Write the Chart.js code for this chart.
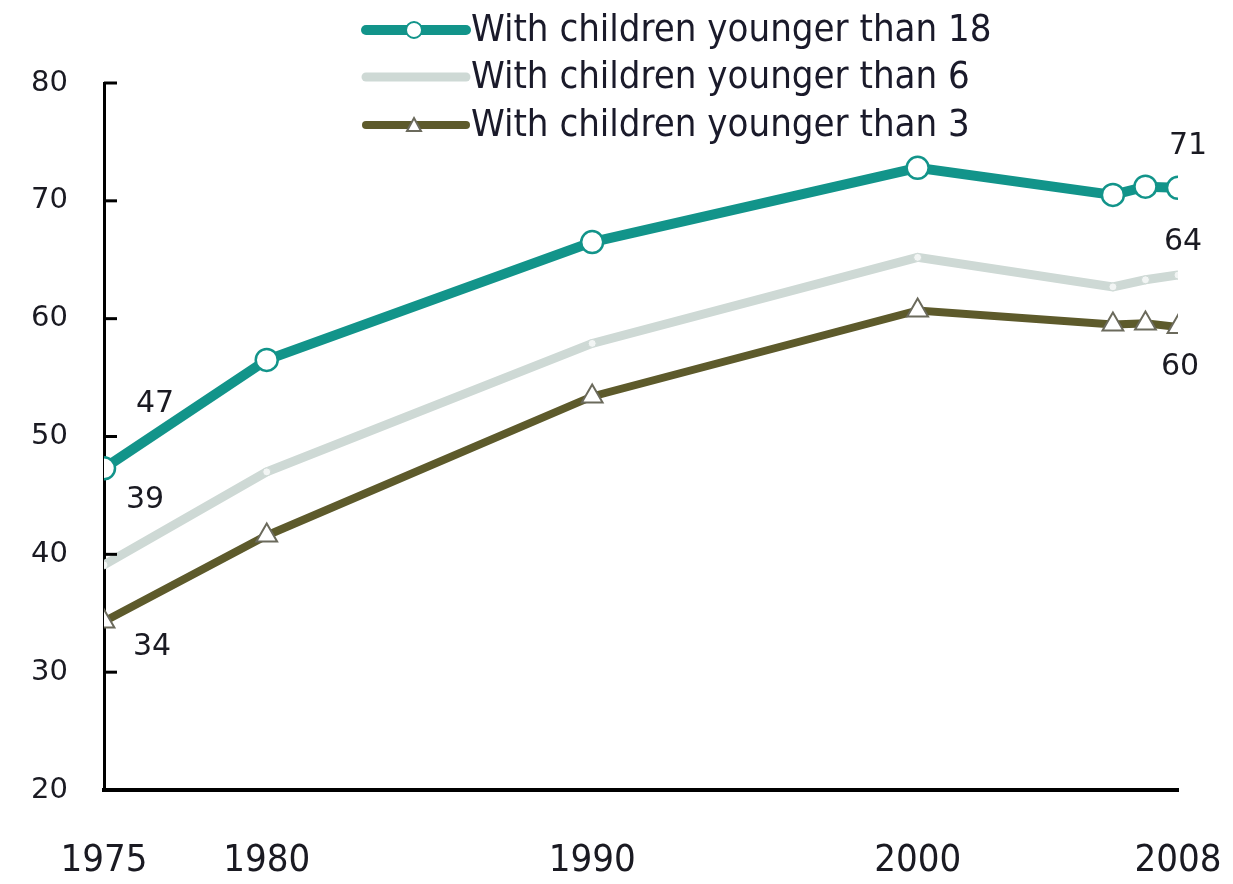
<!DOCTYPE html>
<html>
<head>
<meta charset="utf-8">
<script src="https://cdn.jsdelivr.net/npm/chart.js@4"></script>
<style>
  html, body { margin: 0; padding: 0; background: #fff; }
  #wrap { width: 1233px; height: 884px; position: relative; }
</style>
</head>
<body>
<div id="wrap"><canvas id="lineChart"></canvas></div>
<script>
// values
const years = [1975, 1980, 1990, 2000, 2006, 2007, 2008];
const under18 = [47.3, 56.5, 66.5, 72.8, 70.5, 71.2, 71.1];
const under6 = [39.1, 47.0, 57.9, 65.2, 62.7, 63.3, 63.7];
const under3 = [34.3, 41.6, 53.4, 60.7, 59.5, 59.6, 59.3];
const seriesNames = ['With children younger than 18', 'With children younger than 6', 'With children younger than 3'];
const xTickYears = [1975, 1980, 1990, 2000, 2008];
const yTickValues = [20, 30, 40, 50, 60, 70, 80];
const firstLabels = ['47', '39', '34'];
const lastLabels = ['71', '64', '60'];

const teal = '#12948a';
const light = '#ced9d5';
const olive = '#5d5a2b';

function toPoints(vals) {
  return years.map((y, i) => ({ x: y, y: vals[i] }));
}

// small ticks on the inside of the y axis
const innerTicks = {
  id: 'innerTicks',
  afterDraw(chart) {
    const ctx = chart.ctx;
    const y = chart.scales.y;
    const left = chart.chartArea.left;
    ctx.save();
    ctx.strokeStyle = '#000';
    ctx.lineWidth = 3;
    yTickValues.forEach(v => {
      if (v === 20) return;
      const py = y.getPixelForValue(v);
      ctx.beginPath();
      ctx.moveTo(left, py);
      ctx.lineTo(left + 13, py);
      ctx.stroke();
    });
    ctx.restore();
  }
};

// start and end value labels
const endLabels = {
  id: 'endLabels',
  afterDatasetsDraw(chart) {
    const ctx = chart.ctx;
    const firstOff = [[51, -64], [41, -65], [48, 26]];
    const lastOff = [[10, -42], [5, -33], [2, 40]];
    ctx.save();
    ctx.font = '30px "DejaVu Sans"';
    ctx.fillStyle = '#1a1a22';
    ctx.textAlign = 'center';
    ctx.textBaseline = 'middle';
    chart.data.datasets.forEach((ds, i) => {
      const pts = chart.getDatasetMeta(i).data;
      const a = pts[0], b = pts[pts.length - 1];
      ctx.fillText(firstLabels[i], a.x + firstOff[i][0], a.y + firstOff[i][1]);
      ctx.fillText(lastLabels[i], b.x + lastOff[i][0], b.y + lastOff[i][1]);
    });
    ctx.restore();
  }
};

// legend drawn at the top, line + marker + text
const topLegend = {
  id: 'topLegend',
  afterDraw(chart) {
    const ctx = chart.ctx;
    const rows = [30, 77, 125];
    ctx.save();
    chart.data.datasets.forEach((ds, i) => {
      const yy = rows[i];
      ctx.strokeStyle = ds.borderColor;
      ctx.lineWidth = ds.borderWidth;
      ctx.lineCap = 'round';
      ctx.beginPath();
      ctx.moveTo(366, yy);
      ctx.lineTo(466, yy);
      ctx.stroke();
      ctx.lineCap = 'butt';
      if (ds.pointStyle === 'circle' && i === 0) {
        ctx.beginPath();
        ctx.arc(414, yy, 8, 0, Math.PI * 2);
        ctx.fillStyle = '#fff';
        ctx.fill();
        ctx.lineWidth = 2;
        ctx.strokeStyle = ds.pointBorderColor;
        ctx.stroke();
      } else if (ds.pointStyle === 'triangle') {
        ctx.beginPath();
        ctx.moveTo(414, yy - 7);
        ctx.lineTo(421, yy + 6);
        ctx.lineTo(407, yy + 6);
        ctx.closePath();
        ctx.fillStyle = '#fff';
        ctx.fill();
        ctx.lineWidth = 2;
        ctx.strokeStyle = ds.pointBorderColor;
        ctx.stroke();
      }
      ctx.font = '38px "DejaVu Sans Condensed", "DejaVu Sans"';
      ctx.fillStyle = '#1a1a2a';
      ctx.textAlign = 'left';
      ctx.textBaseline = 'middle';
      ctx.fillText(seriesNames[i], 471, yy + 1);
    });
    ctx.restore();
  }
};

const ctx = document.getElementById('lineChart').getContext('2d');
const chart = new Chart(ctx, {
  type: 'line',
  data: {
    datasets: [{
      label: seriesNames[0],
      data: toPoints(under18),
      borderColor: teal,
      borderWidth: 10,
      pointStyle: 'circle',
      pointRadius: 11,
      pointBackgroundColor: '#fff',
      pointBorderColor: teal,
      pointBorderWidth: 2.5,
      tension: 0
    }, {
      label: seriesNames[1],
      data: toPoints(under6),
      borderColor: light,
      borderWidth: 9,
      pointStyle: 'circle',
      pointRadius: 4,
      pointBackgroundColor: '#f2f5f4',
      pointBorderColor: light,
      pointBorderWidth: 1,
      tension: 0
    }, {
      label: seriesNames[2],
      data: toPoints(under3),
      borderColor: olive,
      borderWidth: 8,
      pointStyle: 'triangle',
      pointRadius: 12,
      pointBackgroundColor: '#fff',
      pointBorderColor: '#6b6a5c',
      pointBorderWidth: 2,
      tension: 0
    }]
  },
  options: {
    responsive: true,
    maintainAspectRatio: false,
    animation: false,
    layout: { padding: { top: 83, right: 55, left: 0, bottom: 0 } },
    plugins: {
      legend: { display: false },
      tooltip: { enabled: false }
    },
    scales: {
      x: {
        type: 'linear',
        min: 1975,
        max: 2008,
        afterBuildTicks(scale) {
          scale.ticks = xTickYears.map(v => ({ value: v }));
        },
        afterFit(scale) {
          scale.height = 94;
          scale.paddingLeft = 0;
          scale.paddingRight = 0;
        },
        ticks: {
          autoSkip: false,
          maxRotation: 0,
          padding: 48,
          color: '#1a1a22',
          font: { family: '"DejaVu Sans Condensed", "DejaVu Sans"', size: 38 },
          callback: v => String(v)
        },
        grid: { display: true, drawOnChartArea: false, drawTicks: false },
        border: { display: true, color: '#000', width: 4 }
      },
      y: {
        min: 20,
        max: 80,
        afterBuildTicks(scale) {
          scale.ticks = yTickValues.map(v => ({ value: v }));
        },
        afterFit(scale) {
          scale.width = 104;
          scale.paddingTop = 0;
          scale.paddingBottom = 0;
        },
        ticks: {
          padding: 36,
          color: '#1a1a22',
          font: { family: '"DejaVu Sans"', size: 29 }
        },
        grid: { display: true, drawOnChartArea: false, drawTicks: false },
        border: { display: true, color: '#000', width: 3 }
      }
    }
  },
  plugins: [innerTicks, endLabels, topLegend]
});
</script>
</body>
</html>
